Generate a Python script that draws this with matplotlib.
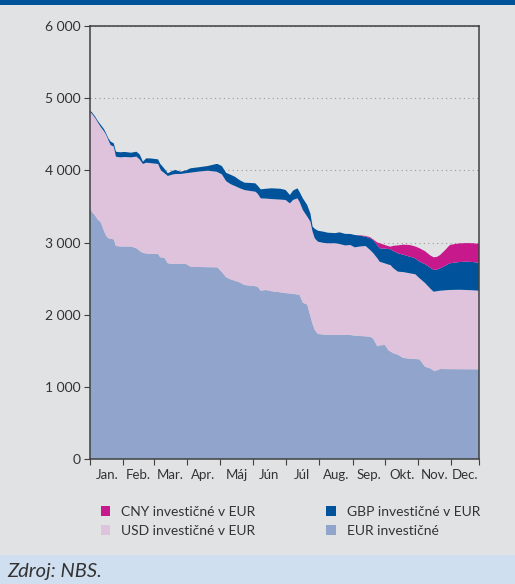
import numpy as np
import matplotlib.pyplot as plt
from matplotlib.patches import Rectangle

plt.rcParams['font.family'] = ['Lato', 'DejaVu Sans']

# day of year for each reading
days = [0, 2, 5, 7, 10, 13, 15, 17, 19, 22,
        24, 28, 32, 38, 43, 46, 49, 52, 56, 63,
        65, 66, 69, 72, 76, 79, 84, 89, 93, 102,
        109, 117, 118, 122, 126, 130, 134, 139, 143, 148,
        153, 155, 158, 163, 168, 176, 181, 185, 188, 192,
        194, 197, 201, 204, 206, 208, 211, 216, 220, 227,
        231, 236, 241, 245, 250, 255, 259, 262, 266, 268,
        273, 276, 278, 281, 285, 290, 296, 301, 305, 310,
        315, 318, 321, 324, 329, 333, 338, 342, 348, 354,
        360]

# EUR investičné (bottom layer)
eur = [3480, 3420, 3370, 3320, 3280, 3160, 3090, 3060, 3050, 3044,
       2952, 2945, 2945, 2945, 2920, 2885, 2855, 2848, 2845, 2841,
       2795, 2795, 2785, 2712, 2705, 2705, 2704, 2702, 2665, 2660,
       2658, 2656, 2656, 2590, 2520, 2490, 2471, 2445, 2411, 2402,
       2395, 2388, 2332, 2342, 2325, 2310, 2298, 2294, 2288, 2280,
       2272, 2166, 2140, 1980, 1870, 1788, 1732, 1725, 1722, 1720,
       1720, 1720, 1718, 1710, 1704, 1700, 1695, 1670, 1560, 1575,
       1580, 1510, 1490, 1464, 1445, 1400, 1390, 1385, 1381, 1279,
       1255, 1224, 1228, 1247, 1246, 1245, 1245, 1244, 1244, 1243,
       1243]

# level reached by EUR + USD
eur_usd = [4810, 4780, 4720, 4670, 4600, 4540, 4490, 4420, 4351, 4328,
           4189, 4180, 4185, 4180, 4190, 4150, 4088, 4106, 4100, 4088,
           4020, 3995, 3960, 3922, 3940, 3949, 3950, 3960, 3968, 3985,
           3995, 3981, 3975, 3945, 3850, 3810, 3783, 3750, 3727, 3715,
           3704, 3680, 3612, 3608, 3602, 3595, 3589, 3543, 3590, 3612,
           3560, 3450, 3360, 3288, 3150, 3058, 3011, 2995, 2989, 2990,
           2979, 2960, 2965, 2933, 2945, 2952, 2900, 2855, 2780, 2734,
           2710, 2695, 2688, 2640, 2596, 2590, 2573, 2560, 2504, 2440,
           2360, 2318, 2325, 2332, 2338, 2342, 2344, 2345, 2342, 2338,
           2332]

# level reached by EUR + USD + GBP
eur_usd_gbp = [4830, 4800, 4740, 4690, 4630, 4570, 4510, 4444, 4400, 4374,
               4258, 4250, 4255, 4244, 4258, 4220, 4120, 4166, 4165, 4152,
               4090, 4074, 4020, 3959, 3990, 4005, 3981, 4000, 4028, 4045,
               4060, 4088, 4088, 4060, 3965, 3940, 3912, 3860, 3829, 3825,
               3820, 3790, 3737, 3745, 3751, 3745, 3728, 3658, 3720, 3751,
               3700, 3612, 3520, 3400, 3220, 3190, 3163, 3150, 3136, 3130,
               3141, 3120, 3118, 3104, 3095, 3080, 3060, 3035, 2960, 2920,
               2915, 2910, 2906, 2880, 2850, 2830, 2804, 2780, 2734, 2700,
               2650, 2619, 2625, 2642, 2680, 2712, 2722, 2730, 2734, 2730,
               2720]

# CNY investičné v EUR (top layer)
cny = [0] * 64 + [5, 10, 15, 10, 40, 70, 50, 40, 36, 75,
                  110, 140, 161, 165, 186, 180, 170, 176, 175, 185,
                  220, 253, 258, 258, 258, 260, 262]

month_starts = [0, 31, 59, 90, 120, 151, 181, 212, 243, 273, 304, 334, 360]
month_labels = ['Jan.', 'Feb.', 'Mar.', 'Apr.', 'Máj', 'Jún', 'Júl',
                'Aug.', 'Sep.', 'Okt.', 'Nov.', 'Dec.']
yticks = [0, 1000, 2000, 3000, 4000, 5000, 6000]

usd = np.array(eur_usd) - np.array(eur)
gbp = np.array(eur_usd_gbp) - np.array(eur_usd)

c_eur = '#90a4cc'
c_usd = '#dfc3dc'
c_gbp = '#00529b'
c_cny = '#c8198c'
bg = '#e1e2e4'

fig = plt.figure(figsize=(5.15, 5.84), dpi=100)
fig.patch.set_facecolor(bg)
ax = fig.add_axes([90/515, 1 - 459/584, 389/515, 433/584])
ax.set_facecolor(bg)

polys = ax.stackplot(days, eur, usd, gbp, cny,
                     colors=[c_eur, c_usd, c_gbp, c_cny],
                     labels=['EUR investičné', 'USD investičné v EUR',
                             'GBP investičné v EUR', 'CNY investičné v EUR'],
                     linewidth=0)

ax.set_xlim(0, 360)
ax.set_ylim(0, 6000)
ax.set_yticks(yticks)
ax.set_yticklabels([f'{v:,}'.replace(',', ' ') for v in yticks],
                   fontsize=10, color='#333333')
ax.yaxis.grid(True, linestyle=(0, (1, 3)), color='#999999', linewidth=0.8)
ax.set_axisbelow(True)

ax.set_xticks(month_starts)
ax.set_xticklabels([])
mids = [(month_starts[i] + month_starts[i + 1]) / 2 for i in range(12)]
ax.set_xticks(mids, minor=True)
ax.set_xticklabels(month_labels, minor=True, fontsize=9.5, color='#333333')
ax.tick_params(axis='x', which='minor', length=0, pad=7)
ax.tick_params(axis='x', which='major', length=4, direction='out',
               color='#404040')
ax.tick_params(axis='y', length=4, direction='out', color='#404040', pad=3)
for s in ax.spines.values():
    s.set_color('#404040')
    s.set_linewidth(1.1)

# legend order: CNY, USD (left column), GBP, EUR (right column)
handles = [polys[3], polys[1], polys[2], polys[0]]
labels = [h.get_label() for h in handles]
leg = fig.legend(handles, labels, ncol=2, loc='upper left',
                 bbox_to_anchor=(88/515, 1 - 493/584), frameon=False,
                 fontsize=10, handlelength=0.7, handleheight=0.7,
                 handletextpad=0.8, columnspacing=5.1, labelspacing=0.55)
for t in leg.get_texts():
    t.set_color('#333333')

# top strip and source band
fig.patches.append(Rectangle((0, 1 - 5/584), 1, 5/584, transform=fig.transFigure,
                             facecolor='#00529b', edgecolor='none'))
fig.patches.append(Rectangle((0, 0), 1, 29/584, transform=fig.transFigure,
                             facecolor='#d0dff0', edgecolor='none'))
fig.text(7/515, 13/584, 'Zdroj: NBS.', fontsize=14.5, style='italic',
         color='#333333', va='center', ha='left')

fig.savefig('out.png', dpi=100, facecolor=fig.get_facecolor())
